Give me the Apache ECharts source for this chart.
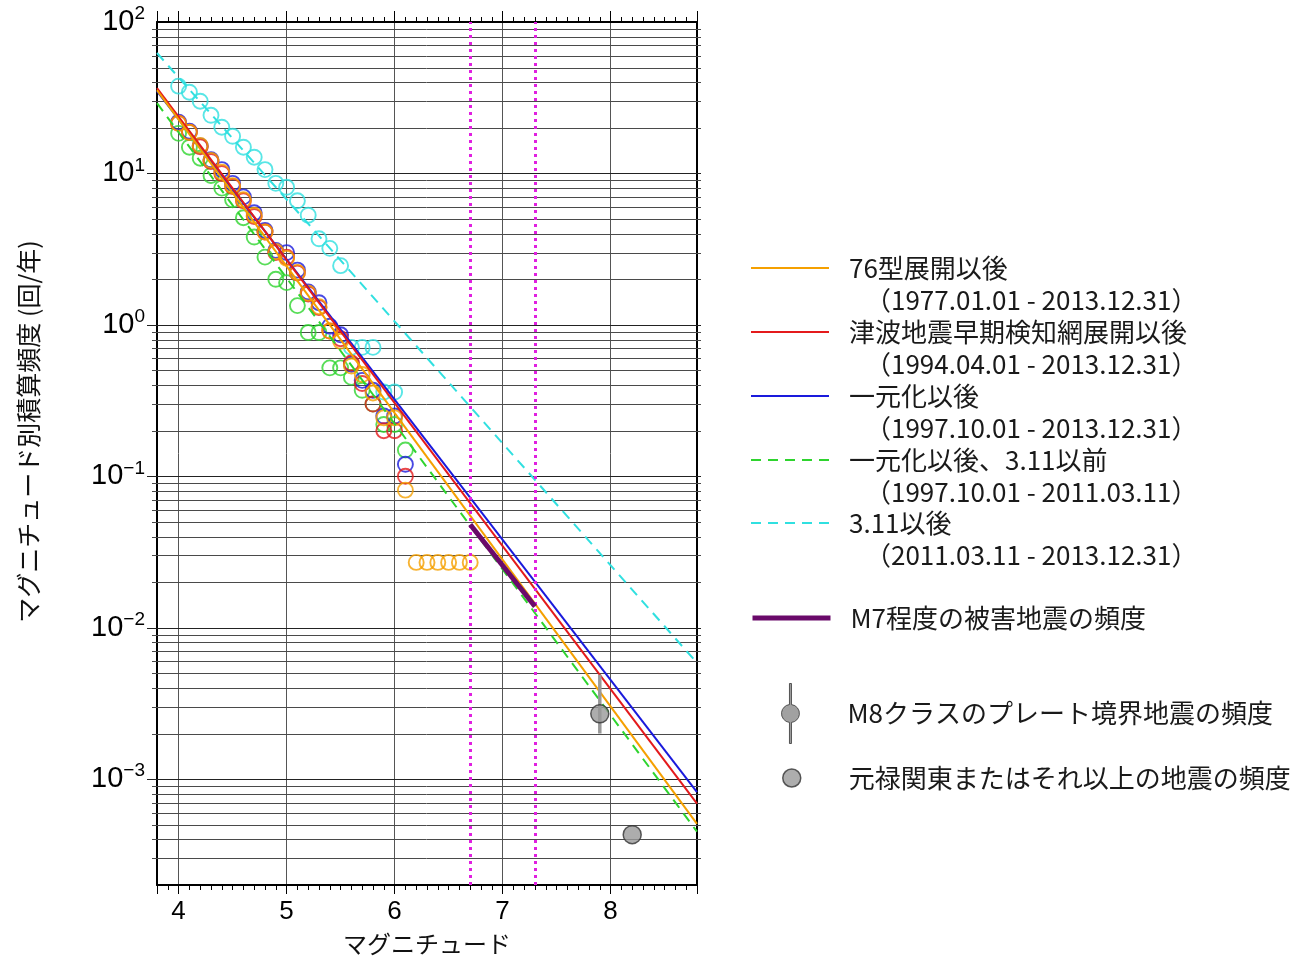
<!DOCTYPE html>
<html><head><meta charset="utf-8">
<script src="https://cdn.jsdelivr.net/npm/echarts@6/dist/echarts.min.js"></script>
<style>html,body{margin:0;padding:0;background:#fff}#c{width:1312px;height:962px}</style>
</head><body><div id="c"></div>
<script>
// ---- data ----
const magBins = [4.0, 4.1, 4.2, 4.3, 4.4, 4.5, 4.6, 4.7, 4.8, 4.9, 5.0, 5.1, 5.2, 5.3, 5.4, 5.5, 5.6, 5.7, 5.8, 5.9, 6.0, 6.1, 6.2, 6.3, 6.4, 6.5, 6.6, 6.7];
const freq76      = [21.4, 18.7, 15.3, 12.2, 10.2, 8.3, 6.7, 5.3, 4.1, 3.05, 2.75, 2.22, 1.62, 1.32, 0.91, 0.78, 0.535, 0.47, 0.355, 0.243, 0.243, 0.081, 0.027, 0.027, 0.027, 0.027, 0.027, 0.027];
const freqTsunami = [21.4, 18.7, 15.0, 12.0, 10.0, 8.2, 6.6, 5.2, 4.1, 3.0, 2.8, 2.2, 1.6, 1.3, 0.91, 0.81, 0.56, 0.41, 0.30, 0.20, 0.20, 0.10];
const freqUnified = [21.8, 19.0, 15.2, 12.3, 10.6, 8.6, 7.0, 5.5, 4.2, 3.1, 3.0, 2.3, 1.65, 1.4, 0.98, 0.86, 0.55, 0.43, 0.37, 0.25, 0.25, 0.12];
const freqPre311  = [18.4, 14.9, 12.6, 9.7, 8.0, 6.7, 5.1, 3.8, 2.8, 2.0, 1.9, 1.34, 0.89, 0.89, 0.52, 0.52, 0.45, 0.37, 0.30, 0.22, 0.22, 0.149];
const freqPost311 = [37.7, 34.4, 30.0, 24.2, 20.2, 17.6, 14.9, 12.8, 10.6, 8.6, 8.1, 6.6, 5.3, 3.7, 3.2, 2.46, 0.71, 0.71, 0.71, 0.36, 0.36];

const fitMag     = [3.8, 8.8];
const fit76      = [35.5, 5.06e-4];
const fitTsunami = [36.6, 6.9e-4];
const fitUnified = [35.0, 8.2e-4];
const fitPre311  = [29.1, 4.5e-4];
const fitPost311 = [62.4, 5.86e-3];

const m7Mag = [6.7, 7.3];
const m7Freq = [0.048, 0.0138];
const m8Mag = [7.9];
const m8Freq = [0.0027];
const m8Range = [0.002, 0.0049];
const genrokuMag = [8.2];
const genrokuFreq = [0.00043];

const seriesNames = ['76型展開以後', '津波地震早期検知網展開以後', '一元化以後', '一元化以後、3.11以前', '3.11以後'];
const periods = ['1977.01.01 - 2013.12.31', '1994.04.01 - 2013.12.31', '1997.10.01 - 2013.12.31', '1997.10.01 - 2011.03.11', '2011.03.11 - 2013.12.31'];
const m7Name = 'M7程度の被害地震の頻度';
const m8Name = 'M8クラスのプレート境界地震の頻度';
const genrokuName = '元禄関東またはそれ以上の地震の頻度';
const xName = 'マグニチュード';
const yName = 'マグニチュード別積算頻度 (回/年)';

const xMin = 3.8, xMax = 8.8, yMin = 2e-4, yMax = 100;

// ---- helpers ----
const pairs = (xs, ys) => ys.map((v, i) => [xs[i], v]).filter(p => p[1] != null);
const hLines = [];
for (let d = -4; d <= 2; d++) {
  for (let k = 1; k <= 9; k++) {
    const v = k * Math.pow(10, d);
    if (v > yMin * 1.0001 && v < yMax * 0.9999) hLines.push([xMin, v, k === 1 ? 1 : 0]);
  }
}
const CJK = "'Noto Sans CJK JP', 'Noto Sans', sans-serif";
const LAT = "'Liberation Sans', Arial, sans-serif";
const colors = ['#F5A000', '#E41A1C', '#1A1ADC', '#2ED42E', '#30E0E0'];
const freqs = [freq76, freqTsunami, freqUnified, freqPre311, freqPost311];
const fits = [fit76, fitTsunami, fitUnified, fitPre311, fitPost311];
const dashed = [false, false, false, true, true];
const circleOrder = [3, 4, 2, 1, 0];
const lineOrder = [3, 4, 2, 1, 0];
const legendTops = [255, 319, 383, 447, 510];

const series = [];
series.push({
  type: 'custom', name: 'grid', coordinateSystem: 'cartesian2d', silent: true, clip: false, z: 1,
  data: hLines,
  renderItem: function (params, api) {
    const v = api.value(1);
    const a = api.coord([xMin, v]);
    const b = api.coord([xMax, v]);
    const major = api.value(2) === 1;
    const y = Math.round(a[1]) + 0.5;
    return { type: 'line', shape: { x1: a[0] - (major ? 10 : 5), y1: y, x2: b[0] + 4, y2: y },
      style: { stroke: major ? '#222' : '#4a4a4a', lineWidth: 1 } };
  }
});
circleOrder.forEach(i => {
  series.push({
    type: 'scatter', name: 'pts' + i, z: 3, silent: true,
    data: pairs(magBins, freqs[i]),
    symbol: 'circle', symbolSize: 15,
    itemStyle: { color: 'rgba(0,0,0,0)', borderColor: colors[i], borderWidth: 1.9 }
  });
});
lineOrder.forEach(i => {
  series.push({
    type: 'line', name: seriesNames[i], z: 4, silent: true,
    data: pairs(fitMag, fits[i]), symbol: 'none', showSymbol: false,
    itemStyle: { color: colors[i] },
    lineStyle: { color: colors[i], width: 2, type: dashed[i] ? [10, 7] : 'solid' }
  });
});
series.push({
  type: 'line', name: m7Name, z: 5, silent: true,
  data: pairs(m7Mag, m7Freq), symbol: 'none', showSymbol: false,
  itemStyle: { color: '#6A0A6A' },
  lineStyle: { color: '#6A0A6A', width: 5 },
  markLine: {
    silent: true, symbol: 'none', label: { show: false },
    lineStyle: { color: '#E020E0', type: [3, 4], width: 3 },
    data: m7Mag.map(m => ({ xAxis: m }))
  }
});
series.push({
  type: 'line', name: 'M8範囲', z: 5, silent: true,
  data: [[m8Mag[0], m8Range[0]], [m8Mag[0], m8Range[1]]], symbol: 'none', showSymbol: false,
  lineStyle: { color: '#999', width: 3.5 }
});
series.push({
  type: 'scatter', name: m8Name, z: 6, silent: true,
  data: pairs(m8Mag, m8Freq), symbol: 'circle', symbolSize: 18,
  itemStyle: { color: '#999', borderColor: '#333', borderWidth: 1.5 }
});
series.push({
  type: 'scatter', name: genrokuName, z: 6, silent: true,
  data: pairs(genrokuMag, genrokuFreq), symbol: 'circle', symbolSize: 18,
  itemStyle: { color: '#999', borderColor: '#333', borderWidth: 1.5 }
});

const legends = seriesNames.map((nm, i) => ({
  orient: 'vertical', left: 750, top: legendTops[i], padding: 0,
  itemWidth: 78, itemHeight: 14, selectedMode: false,
  data: [nm],
  lineStyle: { width: 2 },
  itemStyle: { opacity: 0 },
  formatter: function (name) {
    return '{a|' + name + '}\n{b|（' + periods[seriesNames.indexOf(name)] + '）}';
  },
  textStyle: {
    padding: [32, 0, 0, 15],
    rich: {
      a: { fontFamily: CJK, fontSize: 26, lineHeight: 32, color: '#1a1a1a' },
      b: { fontFamily: CJK, fontSize: 26, lineHeight: 32, color: '#1a1a1a', padding: [0, 0, 0, 16] }
    }
  }
}));
legends.push({
  orient: 'vertical', left: 750, top: 602, padding: 0,
  itemWidth: 78, itemHeight: 14, selectedMode: false,
  data: [m7Name], lineStyle: { width: 5 }, itemStyle: { opacity: 0 },
  textStyle: { fontFamily: CJK, fontSize: 26, lineHeight: 32, color: '#1a1a1a', padding: [0, 0, 0, 15] }
});
legends.push({
  orient: 'vertical', left: 781, top: 683, padding: 0,
  itemWidth: 20, itemHeight: 60, selectedMode: false,
  data: [{ name: m8Name, icon: 'path://M9,0L11,0L11,21.06A9,9,0,0,1,11,38.94L11,60L9,60L9,38.94A9,9,0,0,1,9,21.06Z' }],
  itemStyle: { color: '#8a8a8a', borderColor: '#333', borderWidth: 1 },
  textStyle: { fontFamily: CJK, fontSize: 26, lineHeight: 32, color: '#1a1a1a', padding: [0, 0, 0, 42] }
});
legends.push({
  orient: 'vertical', left: 782, top: 762, padding: 0,
  itemWidth: 18, itemHeight: 18, selectedMode: false,
  data: [{ name: genrokuName, icon: 'circle' }],
  itemStyle: { color: '#999', borderColor: '#333', borderWidth: 1.5 },
  textStyle: { fontFamily: CJK, fontSize: 26, lineHeight: 32, color: '#1a1a1a', padding: [0, 0, 0, 43] }
});

const xAxisCommon = { type: 'value', min: xMin, max: xMax };
const option = {
  animation: false,
  backgroundColor: '#fff',
  grid: { left: 157, right: 615, top: 22, bottom: 77, containLabel: false },
  xAxis: [
    Object.assign({}, xAxisCommon, {
      position: 'bottom', name: xName, nameLocation: 'middle', nameGap: 47,
      nameTextStyle: { fontFamily: CJK, fontSize: 24, color: '#111' },
      axisLine: { show: true, onZero: false, lineStyle: { color: '#000', width: 2 } },
      axisTick: { show: true, inside: false, length: 9, lineStyle: { color: '#000', width: 1 } },
      minorTick: { show: true, splitNumber: 10, length: 5, lineStyle: { color: '#000', width: 1 } },
      splitLine: { show: true, lineStyle: { color: '#555', width: 1 } },
      axisLabel: { show: true, margin: 14, fontFamily: LAT, fontSize: 26, color: '#000', showMinLabel: false, showMaxLabel: false,
        formatter: v => Math.abs(v - Math.round(v)) < 1e-6 ? String(Math.round(v)) : '' }
    }),
    Object.assign({}, xAxisCommon, {
      position: 'top',
      axisLine: { show: true, onZero: false, lineStyle: { color: '#000', width: 2 } },
      axisTick: { show: true, inside: false, length: 11, lineStyle: { color: '#000', width: 1 } },
      minorTick: { show: true, splitNumber: 10, length: 5, lineStyle: { color: '#000', width: 1 } },
      splitLine: { show: false }, axisLabel: { show: false }
    })
  ],
  yAxis: [
    {
      type: 'log', logBase: 10, min: yMin, max: yMax, position: 'left',
      name: yName, nameLocation: 'middle', nameGap: 116, nameRotate: 90,
      nameTextStyle: { fontFamily: CJK, fontSize: 25, color: '#111', padding: [0, 0, 0, 44] },
      axisLine: { show: true, onZero: false, lineStyle: { color: '#000', width: 2 } },
      axisTick: { show: false },
      splitLine: { show: false },
      axisLabel: {
        show: true, margin: 12, showMinLabel: false,
        formatter: function (v) {
          const e = Math.log10(v); const r = Math.round(e);
          if (Math.abs(e - r) > 1e-6) return '';
          return '{b|10}{s|' + (r < 0 ? '\u2212' + (-r) : String(r)) + '}';
        },
        rich: {
          b: { fontFamily: LAT, fontSize: 29, color: '#000' },
          s: { fontFamily: LAT, fontSize: 19, color: '#000', padding: [0, 0, 16, 0] }
        }
      }
    },
    {
      type: 'log', logBase: 10, min: yMin, max: yMax, position: 'right',
      axisLine: { show: true, onZero: false, lineStyle: { color: '#000', width: 2 } },
      axisTick: { show: false }, splitLine: { show: false }, axisLabel: { show: false }
    }
  ],
  legend: legends,
  series: series
};
const chart = echarts.init(document.getElementById('c'), null, { renderer: 'canvas' });
chart.setOption(option);
</script>
</body></html>
